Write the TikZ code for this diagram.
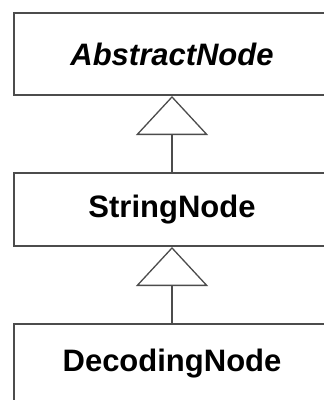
\documentclass[tikz,border=0pt]{standalone}
\usepackage{fontspec}
\setmainfont{Liberation Sans}
\usetikzlibrary{arrows.meta}
\begin{document}
\begin{tikzpicture}[x=1pt,y=-1pt,
  classbox/.style={draw=black!70, line width=2pt, rectangle, inner sep=0pt,
    minimum width=316pt, font=\fontsize{31}{31}\selectfont\bfseries},
  inherit/.style={draw=black!70, line width=1.3pt,
    -{Triangle[open, length=39pt, width=72pt, fill=white]}}]
\useasboundingbox (0,0) rectangle (324,400);
\clip (0,0) rectangle (324,400);
\fill[white] (0,0) rectangle (324,400);
\node[classbox, minimum height=82pt] (abs) at (172,54) {\itshape AbstractNode};
\node[classbox, minimum height=73pt] (str) at (172,209.5) {StringNode};
\node[classbox, minimum height=80pt] (dec) at (172,364) {DecodingNode};
\draw[inherit] (str.north) -- (abs.south);
\draw[inherit] (dec.north) -- (str.south);
\end{tikzpicture}
\end{document}
